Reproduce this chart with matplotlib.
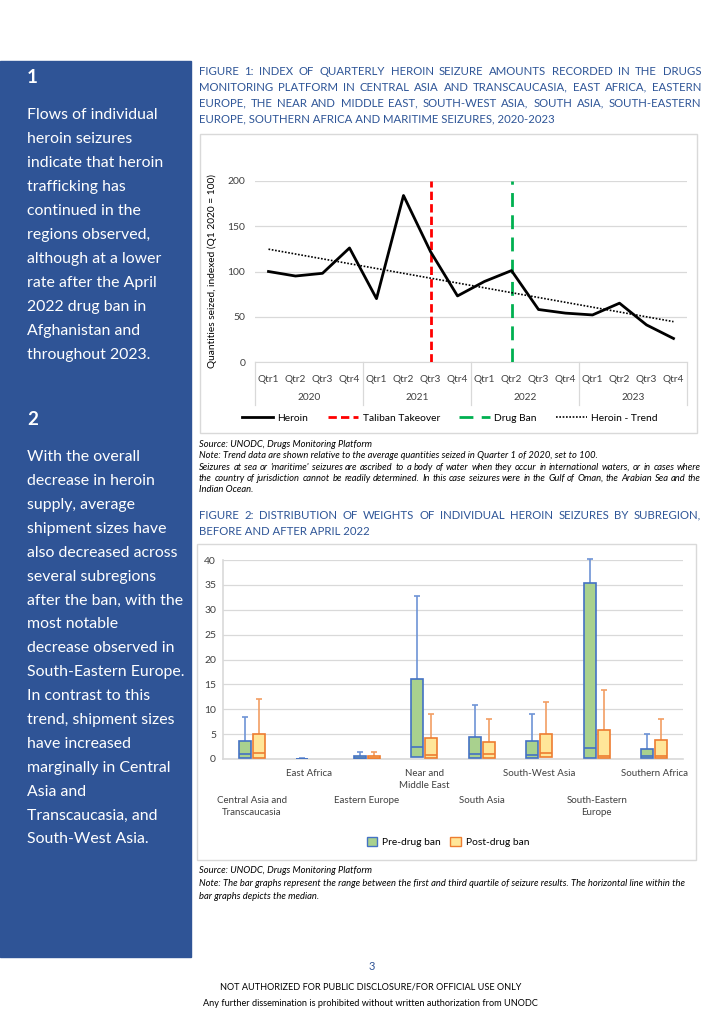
import matplotlib.pyplot as plt
from matplotlib.patches import Rectangle, Patch
import matplotlib.transforms as mtransforms
import numpy as np

plt.rcParams['font.family'] = ['Lato', 'DejaVu Sans']

# ---- data, figure 1 ----
quarters = ["Qtr1", "Qtr2", "Qtr3", "Qtr4"] * 4
years = ["2020", "2021", "2022", "2023"]
heroin = [100, 95, 98, 126, 70, 184, 122, 73, 89, 101, 58, 54, 52, 65, 41, 26]
taliban_idx = 6   # Qtr3 2021
ban_idx = 9       # Qtr2 2022

# ---- data, figure 2 ----
regions = ["Central Asia and\nTranscaucasia", "East Africa", "Eastern Europe",
           "Near and\nMiddle East", "South Asia", "South-West Asia",
           "South-Eastern\nEurope", "Southern Africa"]
pre_q1 = [0.2, 0.0, 0.1, 0.4, 0.2, 0.2, 0.2, 0.2]
pre_med = [1.0, 0.05, 0.3, 2.5, 1.1, 0.8, 2.2, 0.6]
pre_q3 = [3.6, 0.1, 0.6, 16.0, 4.5, 3.7, 35.3, 2.0]
pre_max = [8.4, 0.3, 1.4, 32.7, 10.8, 9.0, 40.3, 5.0]
post_q1 = [0.2, np.nan, 0.1, 0.2, 0.2, 0.4, 0.2, 0.2]
post_med = [1.2, np.nan, 0.3, 0.8, 1.0, 1.2, 0.6, 0.6]
post_q3 = [5.0, np.nan, 0.6, 4.2, 3.4, 5.0, 5.8, 3.8]
post_max = [12.0, np.nan, 1.4, 9.0, 8.0, 11.5, 13.8, 8.0]

W, H = 724, 1024
BLUE = "#2F5496"
TITLE = "#2E5597"
GRID = "#D9D9D9"
TICK = "#404040"

fig = plt.figure(figsize=(W / 100, H / 100), dpi=100)
renderer = fig.canvas.get_renderer()


def fx(x):
    return x / W


def fy(y):
    return 1 - y / H


def base(y, fs):
    # y is the visual middle of a line; move it down to the baseline
    return fy(y + 0.32 * fs * 100 / 72)


def axes_px(left, top, right, bottom):
    return fig.add_axes([fx(left), fy(bottom), (right - left) / W, (bottom - top) / H])


def justify(line, x0, x1, y, **kw):
    words = line.split(" ")
    yb = base(y, kw["fontsize"])
    texts = [fig.text(0, yb, w, va="baseline", ha="left", **kw) for w in words]
    widths = [t.get_window_extent(renderer).width for t in texts]
    gap = (x1 - x0 - sum(widths)) / max(len(words) - 1, 1)
    x = x0
    for t, w in zip(texts, widths):
        t.set_x(fx(x))
        x += w + gap


def left_text(line, x, y, **kw):
    fig.text(fx(x), base(y, kw["fontsize"]), line, va="baseline", ha="left", **kw)


# ---- left blue panel ----
fig.patches.append(Rectangle((0, fy(957)), fx(191), fy(61) - fy(957),
                             transform=fig.transFigure, color=BLUE, zorder=0))
panel1 = ["Flows of individual", "heroin seizures", "indicate that heroin",
          "trafficking has", "continued in the", "regions observed,",
          "although at a lower", "rate after the April", "2022 drug ban in",
          "Afghanistan and", "throughout 2023."]
panel2 = ["With the overall", "decrease in heroin", "supply, average",
          "shipment sizes have", "also decreased across", "several subregions",
          "after the ban, with the", "most notable", "decrease observed in",
          "South-Eastern Europe.", "In contrast to this", "trend, shipment sizes",
          "have increased", "marginally in Central", "Asia and",
          "Transcaucasia, and", "South-West Asia."]
left_text("1", 27, 77, color="white", fontsize=13.5, fontweight="bold")
for i, s in enumerate(panel1):
    left_text(s, 27, 114 + i * 24.0, color="white", fontsize=11.4)
left_text("2", 27, 419, color="white", fontsize=13.5, fontweight="bold")
for i, s in enumerate(panel2):
    left_text(s, 27, 456 + i * 23.9, color="white", fontsize=11.4)

# ---- figure 1 titles and notes ----
tkw = dict(color=TITLE, fontsize=8.2)
justify("FIGURE 1: INDEX OF QUARTERLY HEROIN SEIZURE AMOUNTS RECORDED IN THE DRUGS", 199, 701, 71, **tkw)
justify("MONITORING PLATFORM IN CENTRAL ASIA AND TRANSCAUCASIA, EAST AFRICA, EASTERN", 199, 701, 87, **tkw)
justify("EUROPE, THE NEAR AND MIDDLE EAST, SOUTH-WEST ASIA, SOUTH ASIA, SOUTH-EASTERN", 199, 701, 103, **tkw)
left_text("EUROPE, SOUTHERN AFRICA AND MARITIME SEIZURES, 2020-2023", 199, 119, **tkw)

nkw = dict(color="black", fontsize=6.75, style="italic")
left_text("Source: UNODC, Drugs Monitoring Platform", 199, 444, **nkw)
left_text("Note: Trend data are shown relative to the average quantities seized in Quarter 1 of 2020, set to 100.", 199, 455, **nkw)
justify("Seizures at sea or 'maritime' seizures are ascribed to a body of water when they occur in international waters, or in cases where", 199, 701, 467, **nkw)
justify("the country of jurisdiction cannot be readily determined. In this case seizures were in the Gulf of Oman, the Arabian Sea and the", 199, 701, 478, **nkw)
left_text("Indian Ocean.", 199, 489, **nkw)

justify("FIGURE 2: DISTRIBUTION OF WEIGHTS OF INDIVIDUAL HEROIN SEIZURES BY SUBREGION,", 199, 701, 515, **tkw)
left_text("BEFORE AND AFTER APRIL 2022", 199, 531, **tkw)

left_text("Source: UNODC, Drugs Monitoring Platform", 199, 870, **nkw)
left_text("Note: The bar graphs represent the range between the first and third quartile of seizure results. The horizontal line within the", 199, 883, **nkw)
left_text("bar graphs depicts the median.", 199, 896, **nkw)

# chart frames
for (l, t, r, b) in [(200, 134, 697, 433), (197, 544, 696, 860)]:
    fig.patches.append(Rectangle((fx(l), fy(b)), (r - l) / W, (b - t) / H,
                                 transform=fig.transFigure, fill=False,
                                 edgecolor=GRID, linewidth=1.0))

# ---- figure 1 chart ----
ax1 = axes_px(255, 181, 687, 362)
x = np.arange(len(heroin))
trend = np.polyval(np.polyfit(x, heroin, 1), x)
ax1.plot(x, heroin, color="black", linewidth=2.0, label="Heroin", zorder=4)
ax1.plot([taliban_idx, taliban_idx], [0, 200], color="#FF0000", linewidth=2.0,
         dashes=(3, 1.5), label="Taliban Takeover", zorder=3)
ax1.plot([ban_idx, ban_idx], [0, 200], color="#00B050", linewidth=2.0,
         dashes=(5, 3), label="Drug Ban", zorder=3)
ax1.plot(x, trend, color="black", linewidth=1.2, linestyle=(0, (1, 1)),
         label="Heroin - Trend", zorder=4)
ax1.set_xlim(-0.5, len(heroin) - 0.5)
ax1.set_ylim(0, 200)
ax1.set_yticks([0, 50, 100, 150, 200])
ax1.yaxis.grid(True, color=GRID, linewidth=0.9)
ax1.set_axisbelow(True)
for s in ["top", "right", "left"]:
    ax1.spines[s].set_visible(False)
ax1.spines["bottom"].set_color(GRID)
ax1.tick_params(axis="y", length=0, labelsize=7.5, labelcolor=TICK, pad=7)
ax1.set_xticks([])
ax1.set_ylabel("Quantities seized, indexed (Q1 2020 = 100)", fontsize=7.3,
               color="black")
ax1.yaxis.set_label_coords(-0.087, 0.5)
tr1 = mtransforms.blended_transform_factory(ax1.transData, ax1.transAxes)
for i, q in enumerate(quarters):
    ax1.text(i, -17 / 181, q, transform=tr1, ha="center", va="center",
             fontsize=7.3, color=TICK)
for j, yr in enumerate(years):
    ax1.text(j * 4 + 1.5, -35 / 181, yr, transform=tr1, ha="center",
             va="center", fontsize=7.3, color=TICK)
for b in [-0.5, 3.5, 7.5, 11.5, 15.5]:
    ax1.plot([b, b], [0, -43 / 181], transform=tr1, color=GRID,
             linewidth=0.9, clip_on=False)
ax1.legend(loc="center", bbox_to_anchor=(fx(450), fy(418)),
           bbox_transform=fig.transFigure, ncol=4, frameon=False,
           fontsize=7.4, handlelength=3.0, columnspacing=1.9, handletextpad=0.4)

# ---- figure 2 chart ----
ax2 = axes_px(223, 560, 683, 759)
centers = np.arange(len(regions)) + 0.5
off, bw = 0.122, 0.21
groups = [
    (pre_q1, pre_med, pre_q3, pre_max, -off, "#A9D18E", "#4472C4", "#6E93D6"),
    (post_q1, post_med, post_q3, post_max, off, "#FFE699", "#ED7D31", "#F29E63"),
]
for q1, med, q3, mx, o, fc, ec, wc in groups:
    q1, med, q3, mx = map(np.array, (q1, med, q3, mx))
    xs = centers + o
    ax2.vlines(xs, q3, mx, color=wc, linewidth=1.2, zorder=2, clip_on=False)
    ax2.hlines(mx, xs - 0.05, xs + 0.05, color=wc, linewidth=1.2, zorder=2,
               clip_on=False)
    ax2.bar(xs, q3 - q1, bottom=q1, width=bw, facecolor=fc, edgecolor=ec,
            linewidth=1.2, zorder=3)
    ax2.hlines(med, xs - bw / 2, xs + bw / 2, color=ec, linewidth=1.2, zorder=4)
ax2.set_xlim(0, len(regions))
ax2.set_ylim(0, 40)
ax2.set_yticks(range(0, 41, 5))
ax2.yaxis.grid(True, color=GRID, linewidth=0.9)
ax2.set_axisbelow(True)
for s in ["top", "right"]:
    ax2.spines[s].set_visible(False)
ax2.spines["bottom"].set_color(GRID)
ax2.spines["left"].set_color(GRID)
ax2.spines["bottom"].set_linewidth(1.2)
ax2.spines["left"].set_linewidth(1.2)
ax2.tick_params(axis="y", length=0, labelsize=7.5, labelcolor=TICK, pad=5)
ax2.set_xticks([])
tr2 = mtransforms.blended_transform_factory(ax2.transData, ax2.transAxes)
for i, r in enumerate(regions):
    ypx = 769 if i % 2 == 1 else 796
    ax2.text(centers[i], -(ypx - 759) / 199, r, transform=tr2, ha="center",
             va="top", fontsize=7.0, color=TICK, linespacing=1.45)
handles = [Patch(facecolor="#A9D18E", edgecolor="#4472C4", linewidth=1.0, label="Pre-drug ban"),
           Patch(facecolor="#FFE699", edgecolor="#ED7D31", linewidth=1.0, label="Post-drug ban")]
ax2.legend(handles=handles, loc="center", bbox_to_anchor=(fx(448), fy(842)),
           bbox_transform=fig.transFigure, ncol=2, frameon=False, fontsize=7.4,
           handlelength=1.0, handleheight=1.0, handletextpad=0.5, columnspacing=0.9)

# ---- footer ----
fig.text(fx(372), fy(966), "3", color=BLUE, fontsize=8, ha="center", va="center")
fig.text(fx(371), fy(987), "NOT AUTHORIZED FOR PUBLIC DISCLOSURE/FOR OFFICIAL USE ONLY",
         color="black", fontsize=6.6, ha="center", va="center")
fig.text(fx(370), fy(1003), "Any further dissemination is prohibited without written authorization from UNODC",
         color="black", fontsize=6.6, ha="center", va="center")

plt.savefig("out.png", dpi=100)
